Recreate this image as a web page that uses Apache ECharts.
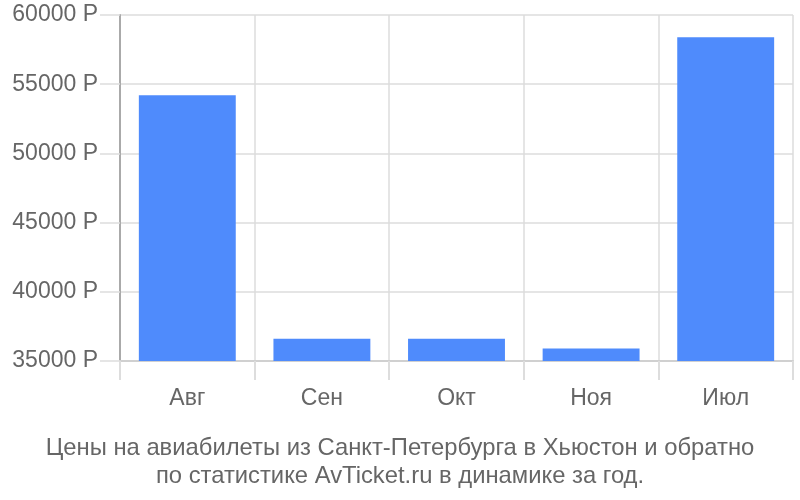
<!DOCTYPE html>
<html>
<head>
<meta charset="utf-8">
<script src="https://cdn.jsdelivr.net/npm/echarts@6/dist/echarts.min.js"></script>
<style>html,body{margin:0;padding:0;background:#fff}#c{width:800px;height:500px}</style>
</head>
<body>
<div id="c"></div>
<script>
const categories = ['Авг', 'Сен', 'Окт', 'Ноя', 'Июл'];
const prices = [54200, 36600, 36600, 35900, 58400];
const yTicks = [35000, 40000, 45000, 50000, 55000, 60000];
const titleText = 'Цены на авиабилеты из Санкт-Петербурга в Хьюстон и обратно\nпо статистике AvTicket.ru в динамике за год.';

const chart = echarts.init(document.getElementById('c'));
chart.setOption({
  animation: false,
  title: {
    text: titleText,
    left: 'center',
    top: 429,
    textStyle: { fontFamily: 'Liberation Sans', fontSize: 23.8, fontWeight: 'normal', color: '#666', lineHeight: 28 }
  },
  grid: { left: 120, right: 7, top: 15, bottom: 139 },
  xAxis: {
    type: 'category',
    data: categories,
    axisLine: { show: true, lineStyle: { color: '#d0d0d0', width: 2 } },
    axisTick: { show: true, length: 19, interval: 0, lineStyle: { color: '#ddd', width: 2 } },
    splitLine: { show: true, interval: 0, lineStyle: { color: '#ddd', width: 1.5 } },
    axisLabel: { fontFamily: 'Liberation Sans', fontSize: 23, color: '#666', margin: 26 }
  },
  yAxis: {
    type: 'value',
    min: yTicks[0],
    max: yTicks[yTicks.length - 1],
    interval: 5000,
    axisLine: { show: true, lineStyle: { color: '#aaa', width: 2 } },
    axisTick: { show: true, length: 20, lineStyle: { color: '#ddd', width: 1.5 } },
    splitLine: { show: true, lineStyle: { color: '#ddd', width: 1.5 } },
    axisLabel: { fontFamily: 'Liberation Sans', fontSize: 23, color: '#666', margin: 22, formatter: v => v + ' Р' }
  },
  series: [{
    type: 'bar',
    data: prices,
    barCategoryGap: '28%',
    itemStyle: { color: '#4f8bfc' }
  }]
});
</script>
</body>
</html>
